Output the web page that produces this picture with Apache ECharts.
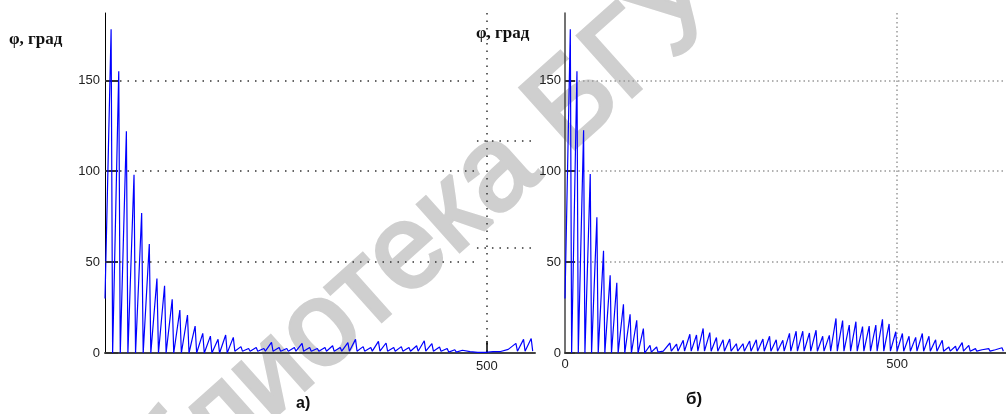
<!DOCTYPE html>
<html>
<head>
<meta charset="utf-8">
<script src="https://cdn.jsdelivr.net/npm/echarts@6/dist/echarts.min.js"></script>
<style>
  html, body { margin: 0; padding: 0; background: #fff; }
  #chart { width: 1006px; height: 414px; }
</style>
</head>
<body>
<div id="chart"></div>
<script>
// фаза сигнала по периодам: минимум в начале периода, пик в конце
const period = 10;
const rise = 8;

// а) левый график
const leftPeaks = [178, 155, 122, 98, 77, 60, 41, 37, 29.5, 23.6, 20.9, 14.8, 10.8, 9.3, 7.5, 9.9, 8.6,
  3.5, 2.5, 3, 2.5, 5.8, 3, 2.5, 3, 5.3, 3, 2.5, 3, 4, 3, 5.7, 7.5, 3.5, 3, 6.4, 5.5, 3, 3.5, 3, 4,
  6.7, 5.2, 3.3, 2.5, 1.8, 1.5, 0.8, 0.3, 0.3, 0.8, 0.8, 2, 5.3, 7.5, 8];
const leftTroughs = [30, 0, 0, 0, 0, 0, 0, 0, 0, 0, 0, 0, 0, 0, 0, 0, 0,
  1, 1, 1, 1, 1, 1, 1, 1, 1, 1, 1, 1, 1, 1, 1, 1, 1, 1, 1, 1, 1, 1, 1, 1, 1, 1, 1, 1,
  0.5, 0.5, 0.5, 0.5, 0.5, 0.5, 0.5, 0.5, 1, 1, 1];

// б) правый график
const rightPeaks = [178, 155, 122.5, 98.4, 74.6, 56.2, 42.7, 38.6, 26.8, 21.3, 18, 13.4, 4.2, 3.3, 1,
  5.5, 4.9, 7, 10.3, 9.9, 13.5, 11.2, 8.5, 7.3, 7.7, 5.1, 5.1, 6.6, 7.3, 7.7, 9.2, 7.3, 7, 10.8, 12,
  12, 11, 12.5, 9.2, 9.7, 19, 17.8, 15.4, 17.2, 14.5, 14.8, 15.4, 18.5, 16, 11.7, 10.7, 9.2, 8.6,
  10.7, 9.2, 7.3, 7, 3.3, 3.7, 5.7, 4.2, 2.4, 1.8, 2.4, 1.8, 2.9];
const rightTroughs = [30, 0, 0, 0, 0, 0, 0, 0, 0, 0, 0, 0, 0, 0.5, 0.5, 0.5,
  1, 1, 1, 1, 1, 1, 1, 1, 1, 1, 1, 1, 1, 1, 1, 1, 1, 1, 1, 1, 1, 1, 1, 1, 1, 1, 1, 1, 1, 1, 1, 1, 1, 1,
  1, 1, 1, 1, 1, 1, 1, 1, 1, 1, 1, 1, 1, 1, 1, 1];

const yTicks = [50, 100, 150];
// в скане левой сетки правый кусок сдвинут
const leftGridStop = 484;
const leftShiftedY = [117, 58];
const leftShiftedX = [487, 560];

const buildWave = (troughs, peaks) => {
  const pts = [];
  peaks.forEach((p, i) => {
    pts.push([i * period, troughs[i]]);
    pts.push([i * period + rise, p]);
  });
  pts.push([peaks.length * period, troughs[troughs.length - 1]]);
  return pts;
};

const dotDark = { color: '#333', width: 1.5, type: [1.5, 6] };
const dotGray = { color: '#999', width: 1.5, type: [1.5, 3] };

const leftMarks = yTicks.map(v => [{ coord: [0, v] }, { coord: [leftGridStop, v] }])
  .concat(leftShiftedY.map(v => [{ coord: [leftShiftedX[0], v] }, { coord: [leftShiftedX[1], v] }]));

const labelFont = { fontFamily: 'Liberation Sans', fontSize: 13, color: '#222' };

const chart = echarts.init(document.getElementById('chart'));
chart.setOption({
  animation: false,
  backgroundColor: '#fff',
  title: [
    { text: 'φ, град', left: 9, top: 31, padding: 0,
      textStyle: { fontFamily: 'Liberation Serif', fontWeight: 'bold', fontSize: 17, color: '#111' } },
    { text: 'φ, град', left: 476, top: 25, padding: 0,
      textStyle: { fontFamily: 'Liberation Serif', fontWeight: 'bold', fontSize: 17, color: '#111' } },
    { text: 'а)', left: 296, top: 396, padding: 0,
      textStyle: { fontFamily: 'Liberation Sans', fontWeight: 'bold', fontSize: 16, color: '#111' } },
    { text: 'б)', left: 686, top: 391, padding: 0,
      textStyle: { fontFamily: 'Liberation Sans', fontWeight: 'bold', fontSize: 17, color: '#111' } }
  ],
  graphic: [{
    type: 'text', x: 375, y: 283, rotation: 0.73, z: 0, silent: true,
    style: {
      text: 'Библиотека БГУ', fontSize: 118, fontFamily: 'Liberation Sans',
      fill: '#cfcfcf', stroke: '#cfcfcf', lineWidth: 4,
      align: 'center', verticalAlign: 'middle',
      textAlign: 'center', textVerticalAlign: 'middle'
    }
  }],
  grid: [
    { left: 105, top: 13, width: 430, height: 340 },
    { left: 565, top: 13, width: 441, height: 340 }
  ],
  xAxis: [
    {
      gridIndex: 0, type: 'value', min: 0, max: 563, interval: 500,
      axisLine: { lineStyle: { color: '#444', width: 2 } },
      axisTick: { show: true, inside: true, length: 12, lineStyle: { color: '#000', width: 1.5 } },
      axisLabel: Object.assign({ margin: 7, showMinLabel: false, showMaxLabel: false }, labelFont),
      splitLine: { show: true, showMinLine: false, showMaxLine: false, lineStyle: dotDark }
    },
    {
      gridIndex: 1, type: 'value', min: 0, max: 664, interval: 500,
      axisLine: { lineStyle: { color: '#444', width: 2 } },
      axisTick: { show: false },
      axisLabel: Object.assign({ margin: 5, showMaxLabel: false }, labelFont),
      splitLine: { show: true, showMinLine: false, showMaxLine: false, lineStyle: dotGray }
    }
  ],
  yAxis: [
    {
      gridIndex: 0, type: 'value', min: 0, max: 187, interval: 50,
      axisLine: { show: true, lineStyle: { color: '#000', width: 1 } },
      axisTick: { show: true, inside: true, length: 13, lineStyle: { color: '#333', width: 2 } },
      axisLabel: Object.assign({ margin: 5, showMaxLabel: false }, labelFont),
      splitLine: { show: false }
    },
    {
      gridIndex: 1, type: 'value', min: 0, max: 187, interval: 50,
      axisLine: { show: true, lineStyle: { color: '#444', width: 1.5 } },
      axisTick: { show: true, inside: true, length: 10, lineStyle: { color: '#333', width: 2 } },
      axisLabel: Object.assign({ margin: 4, showMaxLabel: false }, labelFont),
      splitLine: { show: true, showMinLine: false, showMaxLine: false, lineStyle: dotGray }
    }
  ],
  series: [
    {
      type: 'line', xAxisIndex: 0, yAxisIndex: 0, z: 3,
      data: buildWave(leftTroughs, leftPeaks),
      showSymbol: false,
      lineStyle: { color: '#0000ff', width: 1.2 },
      markLine: {
        silent: true, symbol: ['none', 'none'], label: { show: false },
        lineStyle: dotDark, data: leftMarks
      }
    },
    {
      type: 'line', xAxisIndex: 1, yAxisIndex: 1, z: 3,
      data: buildWave(rightTroughs, rightPeaks),
      showSymbol: false,
      lineStyle: { color: '#0000ff', width: 1.2 }
    }
  ]
});
</script>
</body>
</html>
